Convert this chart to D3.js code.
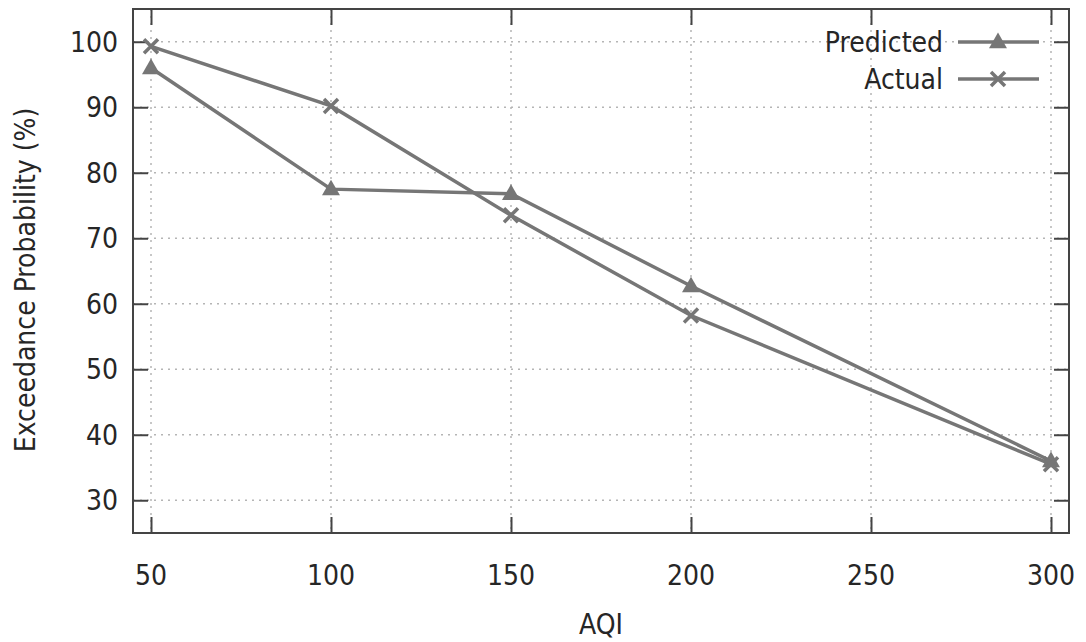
<!DOCTYPE html>
<html><head><meta charset="utf-8">
<script src="https://cdn.jsdelivr.net/npm/d3@7"></script>
<style>body{margin:0;background:#fff}svg{display:block}text{font-family:"DejaVu Sans Condensed","DejaVu Sans",sans-serif;fill:#262626}</style>
</head><body>
<svg id="c" width="1086" height="642"></svg>
<script>
const aqi = [50, 100, 150, 200, 300];
const predicted = [96.0, 77.5, 76.8, 62.7, 36.0];
const actual = [99.3, 90.2, 73.5, 58.2, 35.5];
const xTicks = [50, 100, 150, 200, 250, 300];
const yTicks = [30, 40, 50, 60, 70, 80, 90, 100];
const seriesNames = ["Predicted", "Actual"];

const svg = d3.select("#c");
const L = 133, R = 1069, T = 9, B = 533;
const x = d3.scaleLinear().domain([45, 305]).range([L, R]);
const y = d3.scaleLinear().domain([25, 105]).range([B, T]);
const fs = 28;

// grid
const grid = svg.append("g").attr("stroke", "#b5b5b5").attr("stroke-width", 1.5).attr("stroke-dasharray", "2,5");
xTicks.forEach(v => grid.append("line").attr("x1", x(v)).attr("x2", x(v)).attr("y1", T).attr("y2", B));
yTicks.forEach(v => grid.append("line").attr("x1", L).attr("x2", R).attr("y1", y(v)).attr("y2", y(v)));

// axes (gnuplot style, inward ticks mirrored)
const axCol = "#444";
const gB = svg.append("g").attr("transform", `translate(0,${B})`).call(d3.axisTop(x).tickValues(xTicks).tickSize(16).tickFormat(""));
const gT = svg.append("g").attr("transform", `translate(0,${T})`).call(d3.axisBottom(x).tickValues(xTicks).tickSize(16).tickFormat(""));
const gL = svg.append("g").attr("transform", `translate(${L},0)`).call(d3.axisRight(y).tickValues(yTicks).tickSize(15).tickFormat(""));
const gR = svg.append("g").attr("transform", `translate(${R},0)`).call(d3.axisLeft(y).tickValues(yTicks).tickSize(15).tickFormat(""));
[gB, gT, gL, gR].forEach(g => { g.select(".domain").remove(); g.selectAll("line").attr("stroke", axCol).attr("stroke-width", 2); });
svg.append("rect").attr("x", L).attr("y", T).attr("width", R - L).attr("height", B - T).attr("fill", "none").attr("stroke", axCol).attr("stroke-width", 2);

// tick labels
svg.append("g").selectAll("text").data(xTicks).join("text")
  .attr("x", d => x(d)).attr("y", 585).attr("text-anchor", "middle").attr("font-size", fs).text(d => d);
svg.append("g").selectAll("text").data(yTicks).join("text")
  .attr("x", 118).attr("y", d => y(d) + 10).attr("text-anchor", "end").attr("font-size", fs).text(d => d);

// axis titles
svg.append("text").attr("x", (L + R) / 2).attr("y", 634).attr("text-anchor", "middle").attr("font-size", fs).text("AQI");
svg.append("text").attr("transform", "translate(35,280) rotate(-90)").attr("text-anchor", "middle").attr("font-size", fs).text("Exceedance Probability (%)");

// series
const col = "#767676";
const line = d3.line().x((d, i) => x(aqi[i])).y(d => y(d));
const tri = d3.symbol().type(d3.symbolTriangle).size(140);
const cross = s => `M${-s},${-s}L${s},${s}M${-s},${s}L${s},${-s}`;

function drawSeries(vals, kind) {
  svg.append("path").datum(vals).attr("d", line).attr("fill", "none").attr("stroke", col).attr("stroke-width", 3.5);
  const g = svg.append("g");
  vals.forEach((v, i) => {
    if (kind === "tri") g.append("path").attr("d", tri).attr("transform", `translate(${x(aqi[i])},${y(v) + 1})`).attr("fill", col);
    else g.append("path").attr("d", cross(7)).attr("transform", `translate(${x(aqi[i])},${y(v)})`).attr("stroke", col).attr("stroke-width", 3.5).attr("fill", "none");
  });
}
drawSeries(predicted, "tri");
drawSeries(actual, "cross");

// legend
const legY = [42, 79];
seriesNames.forEach((n, i) => {
  svg.append("text").attr("x", 943).attr("y", legY[i] + 10).attr("text-anchor", "end").attr("font-size", fs).text(n);
  svg.append("line").attr("x1", 958).attr("x2", 1039).attr("y1", legY[i]).attr("y2", legY[i]).attr("stroke", col).attr("stroke-width", 3.5);
  if (i === 0) svg.append("path").attr("d", tri).attr("transform", `translate(998,${legY[i] + 1})`).attr("fill", col);
  else svg.append("path").attr("d", cross(7)).attr("transform", `translate(998,${legY[i]})`).attr("stroke", col).attr("stroke-width", 3.5).attr("fill", "none");
});
</script>
</body></html>
